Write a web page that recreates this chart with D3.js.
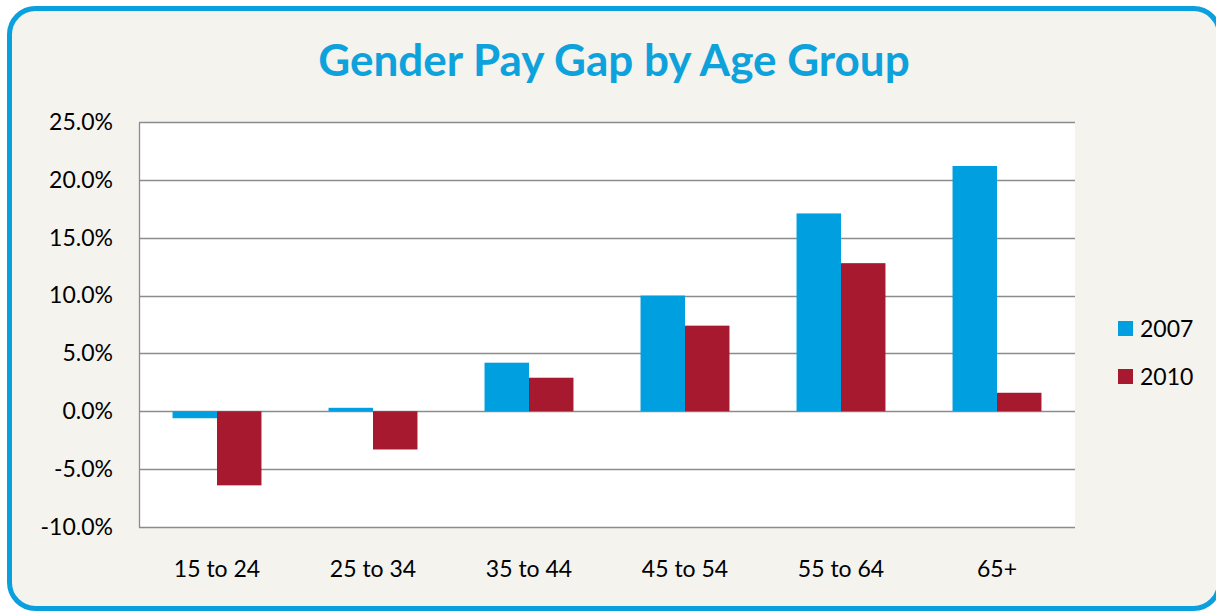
<!DOCTYPE html>
<html>
<head>
<meta charset="utf-8">
<script src="https://cdn.jsdelivr.net/npm/d3@7"></script>
<style>
  body { margin: 0; background: #fff; }
  svg { display: block; font-family: Lato, "Open Sans", sans-serif; }
</style>
</head>
<body>
<div id="chart"></div>
<script>
// data
const ageGroups = ["15 to 24", "25 to 34", "35 to 44", "45 to 54", "55 to 64", "65+"];
const seriesNames = ["2007", "2010"];
const gap2007 = [-0.006, 0.003, 0.042, 0.100, 0.171, 0.212];
const gap2010 = [-0.064, -0.033, 0.029, 0.074, 0.128, 0.016];
const yTicks = [-0.10, -0.05, 0, 0.05, 0.10, 0.15, 0.20, 0.25];

const colors = { "2007": "#009fdf", "2010": "#a6192e" };

const W = 1216, H = 612;
const margin = { top: 122, left: 139, right: 141, bottom: 85 };

const pct = d => d3.format(".1%")(d).replace("\u2212", "-");

const svg = d3.select("#chart").append("svg")
    .attr("width", W).attr("height", H);

// rounded frame
svg.append("rect")
    .attr("x", 9.5).attr("y", 8.5)
    .attr("width", 1210).attr("height", 600)
    .attr("rx", 26).attr("ry", 26)
    .attr("fill", "#f4f3ee")
    .attr("stroke", "#0aa0de")
    .attr("stroke-width", 5);

svg.append("text")
    .attr("x", 614).attr("y", 76)
    .attr("text-anchor", "middle")
    .attr("fill", "#0ea2dc")
    .style("font-size", "44px")
    .style("font-weight", "bold")
    .text("Gender Pay Gap by Age Group");

const x0 = d3.scaleBand()
    .domain(ageGroups)
    .range([margin.left, W - margin.right])
    .paddingInner(0.43).paddingOuter(0.215);

const x1 = d3.scaleBand()
    .domain(seriesNames)
    .range([0, x0.bandwidth()]);

const y = d3.scaleLinear()
    .domain([-0.10, 0.25])
    .range([H - margin.bottom, margin.top]);

// plot area
svg.append("rect")
    .attr("x", margin.left).attr("y", margin.top)
    .attr("width", W - margin.right - margin.left)
    .attr("height", y(-0.10) - y(0.25))
    .attr("fill", "#fff");

// gridlines
svg.append("g")
    .selectAll("line")
    .data(yTicks)
    .join("line")
    .attr("x1", margin.left).attr("x2", W - margin.right)
    .attr("y1", d => Math.round(y(d)) + 0.5).attr("y2", d => Math.round(y(d)) + 0.5)
    .attr("stroke", "#8c8c8c")
    .attr("stroke-width", 1.3);

// y axis
const yAxis = svg.append("g")
    .attr("transform", `translate(${margin.left},0)`)
    .call(d3.axisLeft(y).tickValues(yTicks).tickFormat(pct).tickSize(0).tickPadding(26))
    .attr("font-family", null).attr("font-size", null);
yAxis.select(".domain").attr("stroke", "#8c8c8c").attr("stroke-width", 1.3);
yAxis.selectAll("text").style("font-size", "23px").attr("fill", "#000");

// x labels
const xAxis = svg.append("g")
    .attr("transform", `translate(0,${y(-0.10)})`)
    .call(d3.axisBottom(x0).tickSize(0).tickPadding(34))
    .attr("font-family", null).attr("font-size", null);
xAxis.select(".domain").remove();
xAxis.selectAll("text").style("font-size", "23px").attr("fill", "#000");

// bars
const rows = ageGroups.map((g, i) => ({ group: g, values: [
  { key: "2007", value: gap2007[i] },
  { key: "2010", value: gap2010[i] }
]}));

svg.append("g")
  .selectAll("g")
  .data(rows)
  .join("g")
    .attr("transform", d => `translate(${x0(d.group)},0)`)
  .selectAll("rect")
  .data(d => d.values)
  .join("rect")
    .attr("x", d => x1(d.key))
    .attr("width", x1.bandwidth())
    .attr("y", d => y(Math.max(0, d.value)))
    .attr("height", d => Math.abs(y(d.value) - y(0)))
    .attr("fill", d => colors[d.key]);

// legend
const legend = svg.append("g")
  .selectAll("g")
  .data(seriesNames)
  .join("g")
    .attr("transform", (d, i) => `translate(1118,${321 + i * 48})`);

legend.append("rect")
    .attr("width", 15).attr("height", 15)
    .attr("fill", d => colors[d]);

legend.append("text")
    .attr("x", 22).attr("y", 16)
    .style("font-size", "23px")
    .text(d => d);
</script>
</body>
</html>
